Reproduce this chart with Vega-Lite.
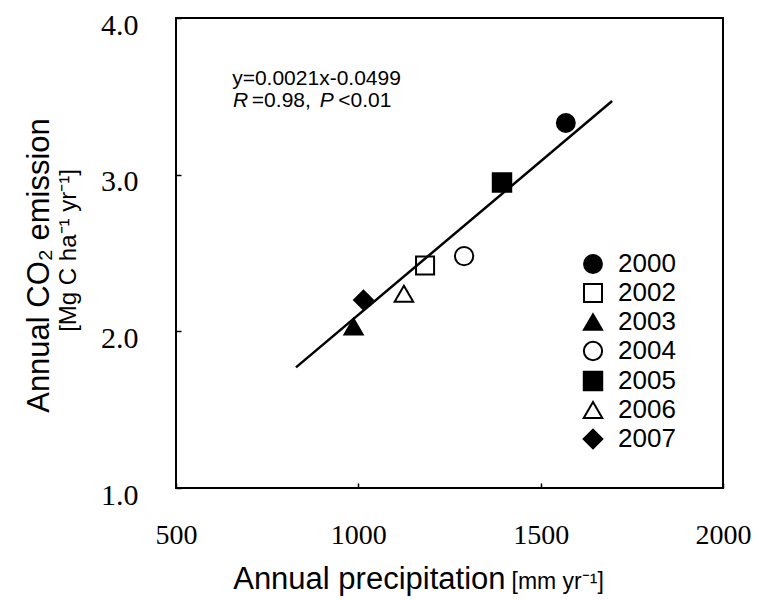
{
  "$schema": "https://vega.github.io/schema/vega-lite/v6.json",
  "width": 547,
  "height": 470,
  "autosize": "none",
  "padding": {"left": 176, "top": 18, "right": 36, "bottom": 112},
  "background": "white",
  "config": {
    "view": {"stroke": "black", "strokeWidth": 2},
    "axis": {"grid": false, "domain": false},
    "font": "Liberation Sans",
    "legend": {
      "orient": "none", "legendX": 404, "legendY": 233, "title": null,
      "labelFont": "Liberation Sans", "labelFontSize": 26, "labelColor": "black",
      "labelOffset": 12, "rowPadding": 2, "symbolStrokeColor": "black", "symbolStrokeWidth": 2
    }
  },
  "resolve": {"axis": {"x": "independent", "y": "independent"}},
  "layer": [
    {
      "data": {"values": [
        {"year": "2000", "precip": 1569, "co2": 3.33},
        {"year": "2002", "precip": 1183, "co2": 2.42},
        {"year": "2003", "precip": 987, "co2": 2.03},
        {"year": "2004", "precip": 1290, "co2": 2.48},
        {"year": "2005", "precip": 1394, "co2": 2.95},
        {"year": "2006", "precip": 1125, "co2": 2.24},
        {"year": "2007", "precip": 1014, "co2": 2.20}
      ]},
      "mark": {"type": "point", "filled": true, "strokeWidth": 2, "opacity": 1},
      "encoding": {
        "x": {"field": "precip", "type": "quantitative",
          "scale": {"domain": [500, 2000], "nice": false, "zero": false},
          "axis": {
            "title": "Annual precipitation", "titleFont": "Liberation Sans", "titleFontSize": 31,
            "titleFontWeight": "normal", "titleColor": "black", "titleAlign": "right",
            "titleX": 329, "titleY": 100, "titleBaseline": "alphabetic", "titleAngle": 0,
            "values": [500, 1000, 1500, 2000], "format": "d",
            "labelFont": "Liberation Serif", "labelFontSize": 28, "labelColor": "black",
            "labelBaseline": "alphabetic", "labelPadding": 60, "labelFlush": false, "labelOverlap": false,
            "tickSize": -5, "tickColor": "black", "tickWidth": 1.5
          }
        },
        "y": {"field": "co2", "type": "quantitative",
          "scale": {"domain": [1, 4], "nice": false, "zero": false},
          "axis": {
            "title": "[Mg C ha⁻¹ yr⁻¹]", "titleFont": "Liberation Sans", "titleFontSize": 24,
            "titleFontWeight": "normal", "titleColor": "black", "titleAlign": "center",
            "titleX": -101, "titleY": 232, "titleBaseline": "alphabetic", "titleAngle": -90,
            "values": [1, 2, 3, 4], "format": ".1f",
            "labelFont": "Liberation Serif", "labelFontSize": 30, "labelColor": "black",
            "labelBaseline": "alphabetic", "labelOffset": 16, "labelPadding": 43, "labelFlush": false,
            "tickSize": -5, "tickColor": "black", "tickWidth": 1.5
          }
        },
        "shape": {"field": "year", "type": "nominal",
          "scale": {"domain": ["2000", "2002", "2003", "2004", "2005", "2006", "2007"],
                    "range": ["circle", "square", "triangle-up", "circle", "square", "triangle-up", "diamond"]}
        },
        "fill": {"field": "year", "type": "nominal",
          "scale": {"domain": ["2000", "2002", "2003", "2004", "2005", "2006", "2007"],
                    "range": ["black", "white", "black", "white", "black", "white", "black"]}
        },
        "stroke": {"field": "year", "type": "nominal",
          "scale": {"domain": ["2000", "2002", "2003", "2004", "2005", "2006", "2007"],
                    "range": ["black", "black", "black", "black", "black", "black", "black"]}
        },
        "size": {"field": "year", "type": "nominal",
          "scale": {"domain": ["2000", "2002", "2003", "2004", "2005", "2006", "2007"],
                    "range": [320, 350, 420, 320, 350, 420, 470]}
        }
      }
    },
    {
      "data": {"values": [
        {"precip": 829, "co2": 1.77},
        {"precip": 1696, "co2": 3.47}
      ]},
      "mark": {"type": "line", "color": "black", "strokeWidth": 2.5},
      "encoding": {
        "x": {"field": "precip", "type": "quantitative",
          "axis": {
            "orient": "bottom", "title": "[mm yr⁻¹]", "titleFont": "Liberation Sans", "titleFontSize": 23,
            "titleFontWeight": "normal", "titleColor": "black", "titleAlign": "left",
            "titleX": 335, "titleY": 100, "titleBaseline": "alphabetic", "titleAngle": 0,
            "labels": false, "ticks": false, "domain": false
          }
        },
        "y": {"field": "co2", "type": "quantitative",
          "axis": {
            "orient": "left", "title": "Annual CO₂ emission", "titleFont": "Liberation Sans", "titleFontSize": 31,
            "titleFontWeight": "normal", "titleColor": "black", "titleAlign": "center",
            "titleX": -128, "titleY": 247, "titleBaseline": "alphabetic", "titleAngle": -90,
            "labels": false, "ticks": false, "domain": false
          }
        }
      }
    },
    {
      "data": {"values": [{}]},
      "mark": {"type": "text", "text": "y=0.0021x-0.0499", "align": "left", "baseline": "alphabetic",
               "font": "Liberation Sans", "fontSize": 21, "color": "black"},
      "encoding": {"x": {"datum": 654, "type": "quantitative", "axis": null}, "y": {"datum": 3.572, "type": "quantitative", "axis": null}}
    },
    {
      "data": {"values": [{}]},
      "mark": {"type": "text", "text": "R", "align": "left", "baseline": "alphabetic",
               "font": "Liberation Sans", "fontSize": 21, "fontStyle": "italic", "color": "black"},
      "encoding": {"x": {"datum": 656, "type": "quantitative", "axis": null}, "y": {"datum": 3.432, "type": "quantitative", "axis": null}}
    },
    {
      "data": {"values": [{}]},
      "mark": {"type": "text", "text": "=0.98,", "align": "left", "baseline": "alphabetic",
               "font": "Liberation Sans", "fontSize": 21, "color": "black"},
      "encoding": {"x": {"datum": 708, "type": "quantitative", "axis": null}, "y": {"datum": 3.432, "type": "quantitative", "axis": null}}
    },
    {
      "data": {"values": [{}]},
      "mark": {"type": "text", "text": "P", "align": "left", "baseline": "alphabetic",
               "font": "Liberation Sans", "fontSize": 21, "fontStyle": "italic", "color": "black"},
      "encoding": {"x": {"datum": 894, "type": "quantitative", "axis": null}, "y": {"datum": 3.432, "type": "quantitative", "axis": null}}
    },
    {
      "data": {"values": [{}]},
      "mark": {"type": "text", "text": "<0.01", "align": "left", "baseline": "alphabetic",
               "font": "Liberation Sans", "fontSize": 21, "color": "black"},
      "encoding": {"x": {"datum": 945, "type": "quantitative", "axis": null}, "y": {"datum": 3.432, "type": "quantitative", "axis": null}}
    }
  ]
}
